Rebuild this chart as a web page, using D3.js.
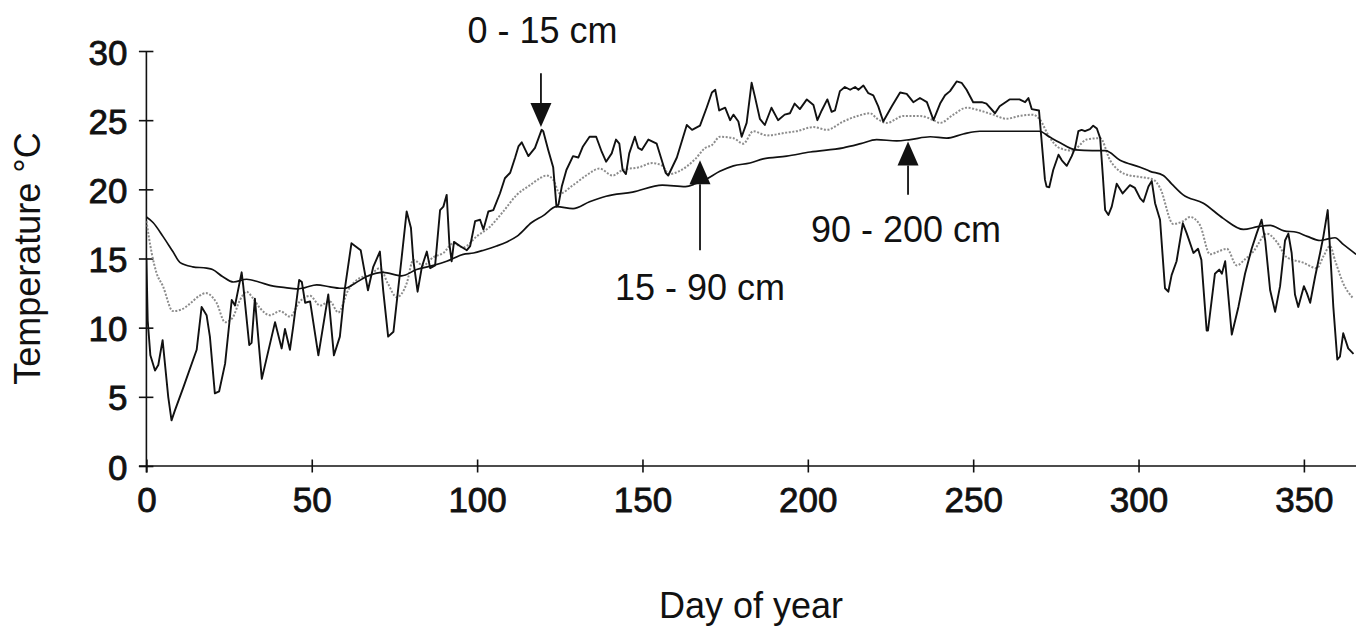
<!DOCTYPE html>
<html>
<head>
<meta charset="utf-8">
<script src="https://cdn.jsdelivr.net/npm/d3@7"></script>
<style>
  html, body { margin: 0; padding: 0; background: #fff; }
  svg { display: block; }
  text { font-family: "Liberation Sans", Arial, sans-serif; fill: #111; }
</style>
</head>
<body>
<svg id="chart" width="1356" height="627"></svg>
<script>
// Soil temperature by depth through the year: [day of year, °C]
const depth0to15 = [
  [0,15.0],[0.4,10.5],[1.2,8.0],[2.6,6.9],[3.6,7.3],[4.9,9.1],[6.6,5.0],[7.6,3.3],[8.6,4.0],[11.2,5.7],
  [15.2,8.4],[16.7,11.5],[18.2,10.9],[19.2,9.35],[20.7,5.25],[22,5.4],[23.8,7.4],[25.8,12.0],[26.8,11.6],
  [28.8,14.0],[29.3,13.0],[31.1,8.75],[31.8,8.9],[32.8,12.1],[34.9,6.3],[38.9,10.4],[40.9,8.5],[41.9,9.9],
  [43.4,8.4],[44.4,10.1],[46.2,13.45],[47,13.3],[48,11.8],[49.5,11.9],[52,8.0],[55,12.4],[56.7,8.0],
  [58.5,9.35],[60,12.8],[62,16.1],[64.8,15.6],[67,12.7],[68.6,14.4],[70.6,15.5],[71.6,12.7],[73.1,9.35],
  [74.7,9.7],[77.2,15.1],[78.7,18.4],[80,17.2],[80.7,14.9],[82,12.6],[83.3,14.4],[84.8,15.5],[85.8,14.3],
  [87.3,14.5],[88.8,18.5],[89.8,18.75],[90.8,19.6],[91.6,16.1],[92.3,14.8],[93,16.2],[94.8,15.9],[96.9,15.6],
  [97.9,15.9],[99.4,17.7],[100.9,17.8],[101.9,17.1],[103.4,18.4],[104.9,18.5],[106.9,19.7],[108.4,20.8],
  [110,21.2],[111.5,22.3],[112.5,23.1],[113.5,23.4],[115.5,22.4],[117.5,23.0],[119.5,24.3],[120,24.2],
  [121.5,22.85],[123,21.6],[124,18.75],[124.6,18.9],[125.6,20.2],[127,21.4],[129,22.4],[130.6,22.3],
  [132,23.1],[134,23.8],[136,23.8],[137.7,22.7],[139,22.0],[140.7,22.6],[142,23.6],[143,23.3],[144,21.4],
  [145,21.1],[146,22.6],[147.7,23.8],[148.7,23.0],[149.8,22.85],[151.8,23.6],[154.3,23.3],[157,21.2],
  [157.8,21.0],[160.4,22.3],[163.4,24.65],[165,24.3],[167.4,24.6],[169.4,25.9],[171,27.0],[172,27.2],
  [173.2,25.7],[175,25.9],[176.5,25.0],[177.5,25.4],[179,24.9],[180,23.8],[181.5,24.8],[183,27.7],
  [184,26.7],[185.5,25.1],[187,24.65],[189,25.9],[191,25.0],[193,25.4],[194.6,25.5],[196,26.2],[197.6,25.8],
  [199.7,26.5],[201.7,26.1],[202.9,25.0],[204.2,25.7],[205.9,26.5],[207.2,25.6],[208.2,25.7],[209.7,27.1],
  [211.2,27.4],[212.8,27.2],[214.3,27.4],[215.3,27.2],[216.8,27.5],[218.3,26.95],[219.8,26.8],[221.3,26.0],
  [222.8,24.9],[225.4,26.0],[227.9,27.0],[229.9,26.9],[231.9,26.3],[233.9,26.6],[236,26.3],[238,25.0],
  [240,26.2],[241.5,26.8],[243,27.1],[245,27.8],[246.5,27.7],[248,27.2],[250,26.3],[252.6,26.3],[254,26.2],
  [256.6,25.5],[258,26.0],[261,26.5],[264,26.5],[265.7,26.3],[266.7,26.6],[267.7,25.8],[269.9,25.7],
  [271.7,20.7],[272.2,20.2],[273,20.15],[274.2,21.4],[275.8,22.5],[276.8,22.1],[278.3,21.7],[279.8,22.4],
  [280.8,23.0],[281.8,24.2],[282.8,24.3],[283.8,24.2],[285.3,24.35],[286.3,24.6],[287.4,24.4],[288.4,23.7],
  [289.2,21.0],[289.9,18.5],[290.9,18.15],[291.9,18.75],[293.4,20.4],[295.2,19.7],[297.4,20.3],[298.9,20.1],
  [300.5,19.35],[301.5,19.1],[303,20.2],[304,20.6],[305,19.0],[306.5,17.8],[308,12.85],[309,12.6],[310,13.8],
  [311.5,14.8],[313.4,17.55],[314.6,16.8],[316.6,15.4],[318,15.7],[319,14.9],[320.6,9.8],[321,9.8],
  [323.1,13.9],[324.4,14.2],[325.2,13.9],[326.2,14.8],[328.2,9.5],[330.2,11.5],[332.2,13.9],[334.2,15.7],
  [335.7,16.8],[337.2,17.8],[338.3,16.3],[339.8,12.7],[341.3,11.15],[342.8,13.0],[344.3,16.3],[345.3,16.8],
  [346.3,15.4],[347.3,12.4],[348.3,11.5],[350,13.0],[350.9,12.5],[351.9,11.8],[353.4,13.7],[354.9,15.4],
  [355.9,16.6],[357.2,18.5],[357.9,15.7],[358.9,11.5],[360.1,7.7],[360.9,7.9],[361.9,9.6],[363.4,8.5],[365,8.1]
];

const depth15to90 = [
  [0,17.7],[1.6,15.4],[3,14.0],[5,13.0],[8,11.2],[10.5,11.3],[13,11.7],[16,12.3],[18,12.5],[20,12.2],
  [21.2,11.8],[23.8,10.4],[26,10.7],[28.3,12.0],[30.3,12.6],[32,12.2],[34.4,11.4],[37.4,10.9],[40.4,11.2],
  [43.4,10.8],[46.4,11.9],[49.5,12.3],[52.5,11.6],[55.5,11.9],[58,11.1],[61,12.7],[64.6,13.6],[67.6,13.8],
  [70.6,14.3],[73,13.2],[75.7,12.2],[78.7,13.2],[80.7,14.9],[83.7,14.5],[86.8,15.1],[89.8,15.4],[92.8,16.1],
  [95.8,15.8],[99.9,16.6],[103.9,17.3],[107.9,18.4],[112,19.6],[116,20.3],[119,20.8],[121,21.0],[123,20.7],
  [125,19.7],[129,20.3],[133,21.0],[137,21.5],[141,21.0],[144,21.4],[149,21.6],[153,21.9],[156,21.7],
  [158,21.1],[161,21.3],[166,22.2],[169,23.0],[171,23.2],[173.4,23.8],[177.5,23.7],[180.5,23.3],[183.5,24.2],
  [187.6,23.9],[193.6,24.1],[196.6,24.2],[201.7,24.5],[205.7,24.3],[210.7,24.9],[215,25.3],[218.8,25.5],
  [221,25.1],[223.9,24.8],[228.9,25.3],[234,25.3],[238,25.0],[240,24.8],[244,25.4],[248,25.9],[252,25.7],
  [256,25.4],[260,25.1],[264,25.3],[268,25.4],[270,25.1],[273,23.8],[276,23.0],[280,22.8],[284.3,23.6],
  [288.4,23.7],[291.4,22.1],[294.4,21.3],[297.4,21.0],[300.5,20.9],[304.5,20.7],[306.5,20.1],[310.5,17.5],
  [313.5,17.7],[315.6,18.0],[318.6,17.4],[321.6,15.3],[324,15.5],[326.7,15.7],[329.7,14.5],[332,14.9],
  [334.7,15.5],[338.8,16.8],[341.8,16.2],[344.8,15.1],[349.8,14.7],[353.9,14.3],[356,15.2],[357.9,15.9],
  [359.5,14.8],[361.9,13.2],[365,12.1]
];

const depth90to200 = [
  [0,18.0],[2,17.6],[5,16.6],[8,15.5],[10.2,14.7],[14,14.4],[18.2,14.3],[20,14.2],[23,13.7],[26.3,13.3],
  [30.3,13.5],[34,13.3],[38.4,13.0],[42,12.9],[45.4,12.8],[48,12.9],[51.5,13.1],[55.5,12.95],[58.5,12.85],
  [60,12.85],[63,13.2],[66.6,13.7],[71.6,14.0],[77.2,13.75],[81.7,14.2],[86.8,14.5],[90.8,14.8],[95.8,15.3],
  [98.9,15.4],[102,15.6],[105.9,15.9],[109,16.2],[112,16.6],[116.5,17.6],[120,18.1],[124,18.75],[129,18.6],
  [134,19.1],[139,19.5],[147,19.8],[156,20.3],[163,20.2],[166,20.4],[169,20.7],[173.4,21.3],[177.5,21.7],
  [182.5,21.9],[186.5,22.2],[193.6,22.4],[200.7,22.7],[210.7,23.0],[216,23.3],[220.8,23.6],[226.9,23.5],
  [231,23.6],[237,23.8],[242,23.7],[247,24.0],[252,24.2],[260,24.2],[270,24.2],[273,23.8],[276,23.4],
  [281,22.85],[286,22.8],[290,22.8],[294.4,22.1],[300.5,21.6],[303.5,21.3],[307.5,21.0],[310,20.4],
  [313.5,19.6],[319.6,19.0],[325.6,17.9],[331.7,17.1],[336,17.3],[339.8,17.4],[344,17.0],[347.8,16.9],
  [351,16.6],[354.9,16.3],[357,16.4],[359.4,16.5],[362,16.0],[365.8,15.3]
];

const xTicks = [0, 50, 100, 150, 200, 250, 300, 350];
const yTicks = [0, 5, 10, 15, 20, 25, 30];

// Depth labels with arrows: arrow at `day`, from `tail` to `tip` (°C); label baseline at `labelTemp`
const depthLabels = ["0 - 15 cm", "15 - 90 cm", "90 - 200 cm"];
const labelDays = [119.8, 167.4, 229.7];
const labelTemps = [30.55, 12.0, 16.2];
const arrowDays = [119.3, 167.4, 230.3];
const arrowTips = [24.5, 22.1, 23.45];
const arrowTails = [28.4, 15.6, 19.6];

const svg = d3.select("#chart");
const x = d3.scaleLinear().domain([0, 365]).range([146.4, 1353.5]);
const y = d3.scaleLinear().domain([0, 30]).range([466, 51]);

// Axes
const xAxis = svg.append("g").attr("transform", `translate(0,${y(0)})`)
  .call(d3.axisBottom(x).tickValues(xTicks).tickSize(0).tickFormat(d3.format("d")));
xAxis.select(".domain").remove();
xAxis.selectAll(".tick line").attr("y1", -6.5).attr("y2", 6.5).attr("stroke", "#111").attr("stroke-width", 1.6);
xAxis.selectAll(".tick text").attr("y", 46).attr("dy", 0).attr("font-size", 35)
  .attr("font-family", "Liberation Sans, Arial, sans-serif").attr("fill", "#111")
  .attr("stroke", "#111").attr("stroke-width", 0.8);

const yAxis = svg.append("g").attr("transform", `translate(${x(0)},0)`)
  .call(d3.axisLeft(y).tickValues(yTicks).tickSize(0).tickFormat(d3.format("d")));
yAxis.select(".domain").remove();
yAxis.selectAll(".tick line").attr("x1", -7.5).attr("x2", 7).attr("stroke", "#111").attr("stroke-width", 1.6);
yAxis.selectAll(".tick text").attr("x", -19).attr("dy", 13).attr("font-size", 35)
  .attr("font-family", "Liberation Sans, Arial, sans-serif").attr("fill", "#111")
  .attr("stroke", "#111").attr("stroke-width", 0.8);

svg.append("line").attr("x1", x(0) - 7.5).attr("x2", 1356).attr("y1", y(0)).attr("y2", y(0))
  .attr("stroke", "#111").attr("stroke-width", 1.6);
svg.append("line").attr("x1", x(0)).attr("x2", x(0)).attr("y1", y(30)).attr("y2", y(0) + 6.5)
  .attr("stroke", "#111").attr("stroke-width", 1.6);

// Axis titles
svg.append("text").attr("transform", `translate(40,${(y(0) + y(30)) / 2}) rotate(-90)`)
  .attr("text-anchor", "middle").attr("font-size", 36).text("Temperature °C");
svg.append("text").attr("x", 751).attr("y", 618).attr("text-anchor", "middle")
  .attr("font-size", 36).text("Day of year");

// Series
svg.append("clipPath").attr("id", "plot-clip")
  .append("rect").attr("x", x(0)).attr("y", 0).attr("width", 1356 - x(0)).attr("height", 627);

const linear = d3.line().x(d => x(d[0])).y(d => y(d[1]));
const smooth = d3.line().x(d => x(d[0])).y(d => y(d[1])).curve(d3.curveMonotoneX);
const plot = svg.append("g").attr("clip-path", "url(#plot-clip)");

plot.append("path").datum(depth15to90).attr("d", smooth)
  .attr("fill", "none").attr("stroke", "#8c8c8c").attr("stroke-width", 2).attr("stroke-dasharray", "2,1.6");
plot.append("path").datum(depth90to200).attr("d", smooth)
  .attr("fill", "none").attr("stroke", "#111").attr("stroke-width", 1.7);
plot.append("path").datum(depth0to15).attr("d", linear)
  .attr("fill", "none").attr("stroke", "#111").attr("stroke-width", 1.9).attr("stroke-linejoin", "round");

// Depth annotations
depthLabels.forEach((label, i) => {
  const ax = x(arrowDays[i]), tip = y(arrowTips[i]), tail = y(arrowTails[i]);
  const dir = tip > tail ? 1 : -1;          // 1 = pointing down
  const headLen = 24, halfW = 10.5;
  const base = tip - dir * headLen;
  svg.append("line").attr("x1", ax).attr("x2", ax).attr("y1", tail).attr("y2", base)
    .attr("stroke", "#111").attr("stroke-width", 1.8);
  svg.append("path")
    .attr("d", `M${ax},${tip} L${ax - halfW},${base} L${ax + halfW},${base} Z`)
    .attr("fill", "#111");
  svg.append("text").attr("x", x(labelDays[i])).attr("y", y(labelTemps[i]))
    .attr("text-anchor", "middle").attr("font-size", 36).text(label);
});
</script>
</body>
</html>
